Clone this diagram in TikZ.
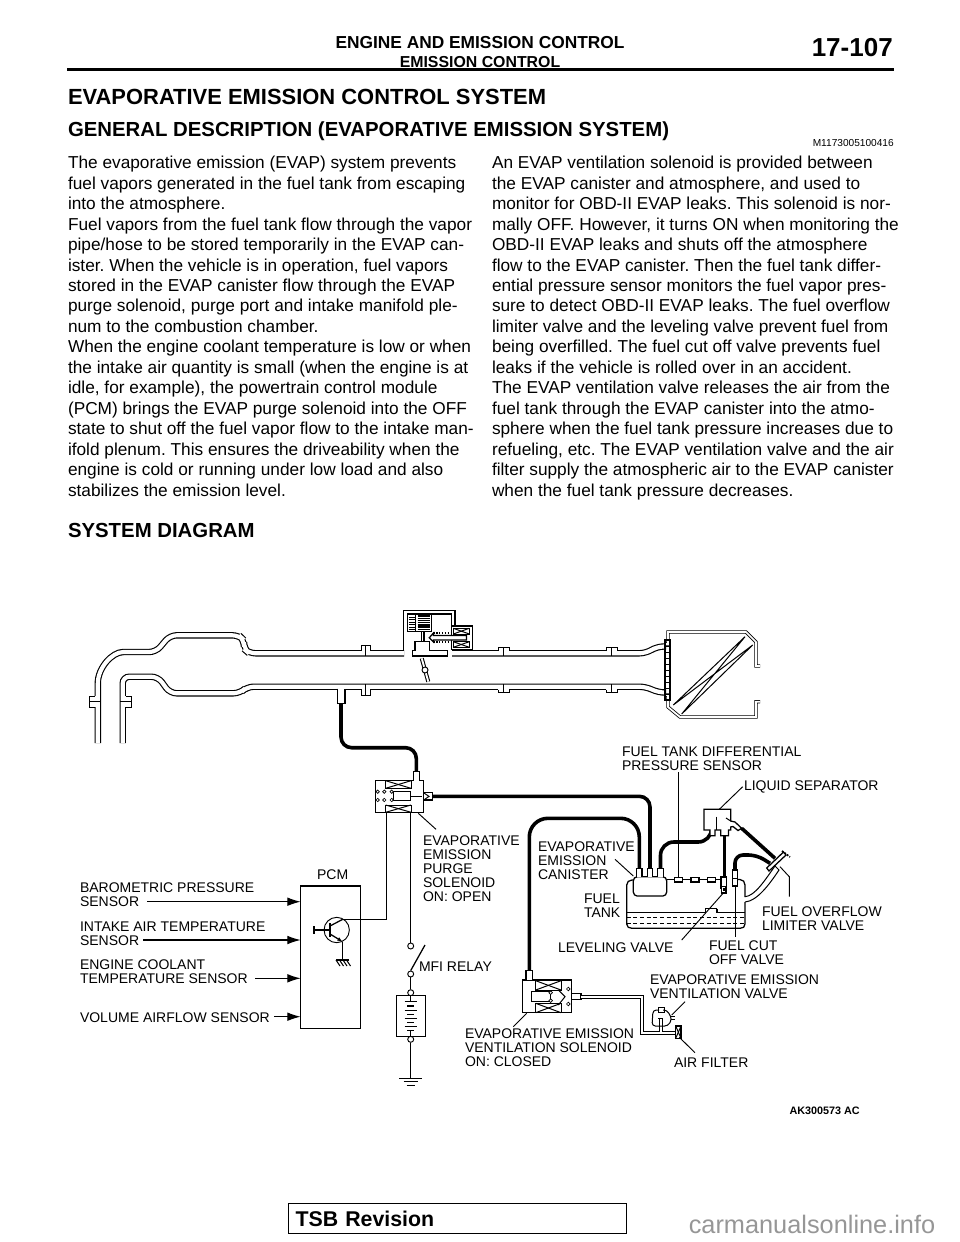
\documentclass[tikz,border=0pt]{standalone}
\usepackage{fontspec}
\setmainfont{Liberation Sans}
\usepackage{xcolor}
\usetikzlibrary{arrows,arrows.meta,positioning}
\definecolor{wmgray}{RGB}{150,150,150}
\tikzstyle{wall} = [draw=black, line width=0.95pt]
\tikzstyle{thin} = [draw=black, line width=0.75pt]
\tikzstyle{pipe} = [draw=black, line width=0.85pt, double=white, double distance=3.1pt, rounded corners=5pt]
\tikzstyle{smallpipe} = [draw=black, line width=0.7pt, double=white, double distance=1.4pt]
\tikzstyle{hose} = [draw=black, line width=2.7pt, rounded corners=8pt]
\tikzstyle{leader} = [draw=black, line width=0.7pt]
\tikzstyle{signal} = [draw=black, line width=0.9pt, -{Latex[length=10pt,width=6.5pt]}]
\tikzstyle{callout} = [inner sep=0pt, outer sep=0pt, align=left, font=\fontsize{10.5}{10.6}\selectfont]
\tikzstyle{para} = [inner sep=0pt, outer sep=0pt, align=left, font=\fontsize{12.95}{15.35}\selectfont]
\tikzstyle{heading} = [inner sep=0pt, outer sep=0pt, font=\bfseries\fontsize{15.27}{18}\selectfont]
\tikzstyle{solidbox} = [draw=black, line width=0.95pt, inner sep=0pt, outer sep=0pt, fill=white]
\frenchspacing
\begin{document}
\begin{tikzpicture}[x=0.75pt,y=-0.75pt]
\useasboundingbox (0,0) rectangle (960,1242);
% Page head
\node (head) [inner sep=0pt, font=\bfseries\fontsize{13}{14}\selectfont] at (480,43) {ENGINE AND EMISSION CONTROL};
\node (subhead) [inner sep=0pt, font=\bfseries\fontsize{11.9}{12}\selectfont] at (480,62) {EMISSION CONTROL};
\node (pageno) [inner sep=0pt, anchor=east, font=\bfseries\fontsize{19.5}{22}\selectfont] at (893,48) {17-107};
\coordinate (ruleL) at (67,69.5);
\coordinate (ruleR) at (894,69.5);
\draw[line width=2.4pt] (ruleL) -- (ruleR);
\node (title) [heading, anchor=west, font=\bfseries\fontsize{16.45}{18}\selectfont] at (68,96.5) {EVAPORATIVE EMISSION CONTROL SYSTEM};
\node (general) [heading, anchor=west] at (68,131) {GENERAL DESCRIPTION (EVAPORATIVE EMISSION SYSTEM)};
\node (docno) [inner sep=0pt, anchor=east, font=\fontsize{7.6}{9}\selectfont] at (894,143) {M1173005100416};
% Body text
\node (leftcol) [para, anchor=north west] at (68,156.2) {The evaporative emission (EVAP) system prevents\\
fuel vapors generated in the fuel tank from escaping\\
into the atmosphere.\\
Fuel vapors from the fuel tank flow through the vapor\\
pipe/hose to be stored temporarily in the EVAP can-\\
ister. When the vehicle is in operation, fuel vapors\\
stored in the EVAP canister flow through the EVAP\\
purge solenoid, purge port and intake manifold ple-\\
num to the combustion chamber.\\
When the engine coolant temperature is low or when\\
the intake air quantity is small (when the engine is at\\
idle, for example), the powertrain control module\\
(PCM) brings the EVAP purge solenoid into the OFF\\
state to shut off the fuel vapor flow to the intake man-\\
ifold plenum. This ensures the driveability when the\\
engine is cold or running under low load and also\\
stabilizes the emission level.};
\node (rightcol) [para, anchor=north west] at (492,156.2) {An EVAP ventilation solenoid is provided between\\
the EVAP canister and atmosphere, and used to\\
monitor for OBD-II EVAP leaks. This solenoid is nor-\\
mally OFF. However, it turns ON when monitoring the\\
OBD-II EVAP leaks and shuts off the atmosphere\\
flow to the EVAP canister. Then the fuel tank differ-\\
ential pressure sensor monitors the fuel vapor pres-\\
sure to detect OBD-II EVAP leaks. The fuel overflow\\
limiter valve and the leveling valve prevent fuel from\\
being overfilled. The fuel cut off valve prevents fuel\\
leaks if the vehicle is rolled over in an accident.\\
The EVAP ventilation valve releases the air from the\\
fuel tank through the EVAP canister into the atmo-\\
sphere when the fuel tank pressure increases due to\\
refueling, etc. The EVAP ventilation valve and the air\\
filter supply the atmospheric air to the EVAP canister\\
when the fuel tank pressure decreases.};
\node (sysdiag) [heading, anchor=west] at (68,530) {SYSTEM DIAGRAM};

% Intake pipe walls
\draw[pipe] (97.8,743) -- (97.8,690) .. controls (97.8,668) and (112,652) .. (130,652) -- (156,652) -- (170,635.3) -- (239,635.3) -- (244,640) -- (244,649) -- (249,653.3) -- (404,653.3);
\draw[pipe] (122.7,743) -- (122.7,676.7) -- (158,676.7) -- (170,693.3) -- (240,693.3) -- (247,686.7) -- (503,686.7) -- (646,686.7) -- (658,692.5) -- (666,692.5);
\draw[pipe] (452,653.3) -- (646,653.3) -- (657,646.5) -- (666,646.5);
% Flanges
\foreach \xa/\xb/\ya in {361.7/370/645,498.3/509.3/647.3,606/617.3/647.3} {
\fill[white] (\xa,\ya) rectangle (\xb,653);
\draw[thin] (\xa,651) -- (\xa,\ya) -- (\xb,\ya) -- (\xb,651);
\draw[thin] ({(\xa+\xb)/2},\ya) -- ({(\xa+\xb)/2},656);
}
\foreach \xa/\xb/\yb in {361.7/370/695.3,498.3/509.3/692.7,606/617.3/692.7} {
\fill[white] (\xa,687.5) rectangle (\xb,\yb);
\draw[thin] (\xa,689.5) -- (\xa,\yb) -- (\xb,\yb) -- (\xb,689.5);
\draw[thin] ({(\xa+\xb)/2},684) -- ({(\xa+\xb)/2},\yb);
}
\fill[white] (89.3,696) rectangle (96,707.3);
\draw[thin] (95,696) -- (89.3,696) -- (89.3,707.3) -- (95,707.3);
\draw[thin] (89.3,701.7) -- (100.7,701.7);
\fill[white] (124.5,696) rectangle (131,707.3);
\draw[thin] (125.5,696) -- (131,696) -- (131,707.3) -- (125.5,707.3);
\draw[thin] (120,701.7) -- (131,701.7);
% Branch to the purge hose
\fill[white] (338,685) rectangle (344.5,690);
\draw[wall] (337.5,688.5) -- (337.5,703.3) -- (345,703.3) -- (345,688.5);

% Air cleaner
\draw[wall, double=white, double distance=1.3pt, line width=0.6pt] (665,644) -- (668,644) -- (668,632) -- (746,632) -- (756,642) -- (756,666) -- (760,666);
\draw[wall, double=white, double distance=1.3pt, line width=0.6pt] (665,695) -- (668,695) -- (668,707) -- (680,717) -- (756,717) -- (756,701.7) -- (760,701.7);
\draw[wall] (665,640) rectangle (670,700);
\foreach \y in {646,652,658,664,670,676,682,688,694} {
\draw[thin] (665,\y) -- (670,\y);
}
\draw[thin] (673.3,705) -- (745,636.7) -- (681.7,714) -- (752.7,645) -- cycle;

% Purge control solenoid at the intake
\draw[wall] (403.3,650) -- (403.3,610.7) -- (455,610.7) -- (455,626);
\draw[wall] (431.5,631.7) -- (407.3,631.7) -- (407.3,614) -- (451.7,614) -- (451.7,650);
\draw[wall] (431.5,614) -- (431.5,631.7);
\draw[wall] (415.5,614) -- (415.5,631.7);
\foreach \y in {617,619.5,622,624.5,627,629.5} {
\draw[thin] (408.5,\y) -- (414.5,\y);
}
\foreach \y in {616,618.2,620.4,622.6,624.8,627,629.2} {
\draw[line width=1.05pt] (417.5,\y) -- (429.5,\y);
}
\draw[wall, fill=white] (421.7,631.7) rectangle (424,642);
\draw[wall, fill=white] (415,650.7) -- (415,641.7) -- (429.3,641.7) -- (429.3,650.7) -- (447.7,650.7) -- (447.7,656) -- (412.3,656) -- (412.3,650.7) -- cycle;
\draw[wall, fill=white] (451.7,626) rectangle (472.7,649.3);
\foreach \xa/\ya/\xb/\yb in {453.3/628.3/469.3/634,453.3/641.7/469.3/647.3} {
\draw[thin] (\xa,\ya) rectangle (\xb,\yb);
\draw[thin] (\xa,\ya) -- (\xb,\yb);
\draw[thin] (\xa,\yb) -- (\xb,\ya);
}
\draw[wall, fill=white] (466.5,635.5) -- (433.5,635.5) -- (433.5,633) -- (429.3,637.7) -- (433.5,642) -- (433.5,640) -- (466.5,640) -- cycle;
\draw[line width=1.2pt, densely dotted] (433,633) -- (452,633);
\draw[line width=1.2pt, densely dotted] (433,642) -- (452,642);
% Throttle plate
\draw[line width=3pt] (421.7,658.3) -- (428.3,681.7);
\draw[line width=1.4pt, white] (421.7,658.3) -- (428.3,681.7);
\node (throttle) [circle, draw=black, fill=white, line width=0.7pt, minimum size=4.5pt, inner sep=0pt] at (425,670) {};

% Purge solenoid
\node (purge) [solidbox, minimum width=35.7pt, minimum height=23.7pt] at (399.5,796.5) {};
\draw[wall, fill=white] (413.3,780.7) -- (413.3,771.7) -- (419.3,771.7) -- (419.3,780.7);
\foreach \xa/\ya/\xb/\yb in {385.7/780.7/411/788.3,385.7/805/411/812.3} {
\draw[thin] (\xa,\ya) rectangle (\xb,\yb);
\draw[thin] (\xa,\ya) -- (\xb,\yb);
\draw[thin] (\xa,\yb) -- (\xb,\ya);
}
\draw[thin] (393.3,791.7) rectangle (410,800.7);
\draw[thin] (410,796) -- (421.7,796);
\foreach \x in {377.7,384.3,391.7} {
\foreach \y in {791.7,800} {
\draw[line width=0.5pt, fill=white] (\x,\y) circle (1.7);
}
}
\draw[wall, fill=white] (423.3,792.7) rectangle (432.7,800);
\draw[thin] (424,793) -- (429,796.4) -- (424,799.8);

% Hoses
\coordinate (teeBottom) at (341,703.3);
\coordinate (purgeTop) at (416.3,771.7);
\coordinate (purgeOut) at (432.7,796.3);
\draw[hose] (teeBottom) -- (341,747.7) -- (416.3,747.7) -- (purgeTop);
\draw[hose] (purgeOut) -- (650,796.3) -- (650,868.5);
\draw[hose, rounded corners=14pt] (529.3,970.7) -- (529.3,818.3) -- (639.3,818.3) -- (639.3,868.5);
\draw[hose, rounded corners=10pt] (660.5,868.5) -- (660.5,842) -- (711.5,842) -- (711.5,835);
\draw[hose] (724.3,835) -- (724.3,877);
\draw[hose, rounded corners=0pt] (741.7,828.3) -- (775,858.3);
\draw[hose, rounded corners=6pt] (735,870) -- (735,855) -- (756.7,855) -- (770,863.3);

% Fuel tank
\draw[wall] (633.3,880) -- (632,880) .. controls (629,880) and (626.7,882) .. (626.7,885) -- (626.7,924) .. controls (626.7,927) and (629,928.3) .. (632,928.3) -- (740,928.3) .. controls (743,928.3) and (745,927) .. (745,924) -- (745,902);
\draw[wall] (745,897) -- (745,885) .. controls (745,882) and (743,879.5) .. (740,879.5) -- (737.3,879.5);
\draw[thin] (626.7,912.7) -- (705,912.7) -- (705,908.3) -- (716.7,908.3) -- (716.7,912.7) -- (745,912.7);
\draw[thin, densely dashed] (626.7,917.7) -- (745,917.7);
\draw[thin, densely dashed] (626.7,923.3) -- (745,923.3);
\draw[thin] (717.5,908.7) -- (717.5,911.5);
% Sensor line on top of the tank
\draw[wall] (666.7,879.5) -- (721,879.5);
\foreach \xa/\xb in {674.3/682.3,691/699,707.7/715.7} {
\draw[wall, fill=white] (\xa,877.3) rectangle (\xb,882);
}
% Valves in the tank
\draw[wall, fill=white] (721,877) rectangle (726.7,888);
\draw[wall, fill=white] (721.8,886.5) rectangle (726,893);
\fill (722.8,887.5) rectangle (725,891);
\draw[wall, fill=white] (732.3,870) rectangle (737.3,886);
\draw[thin] (732.3,878) -- (737.3,878);
% Filler neck
\draw[thin, fill=white] (745,896.7) .. controls (755,896) and (765,880) .. (775,866) -- (779,870) .. controls (769,885) and (757,901) .. (745,902);
\draw[wall, fill=white] (766.7,868) -- (783.5,852) -- (786,855) -- (769,871) -- cycle;
\draw[line width=1.3pt, densely dotted] (782,851) -- (790,857);

% Canister
\node (canister) [solidbox, rounded corners=3pt, minimum width=25pt, minimum height=14.5pt] at (650,886.4) {};
\foreach \x in {639.2,650,660.5} {
\draw[wall, fill=white] ({\x-2.7},876.7) -- ({\x-2.7},868.5) -- ({\x+2.7},868.5) -- ({\x+2.7},876.7);
}

% Liquid separator
\draw[wall, fill=white] (704,830) -- (704,809.3) -- (730.7,809.3) -- (730.7,821) -- (735,822) -- (741.7,828.3) -- (738,830.5) -- (733,826.5) -- (730.7,827) -- (730.7,830) -- (728.5,830) -- (728.5,835.7) -- (720.7,835.7) -- (720.7,830) -- (715,830) -- (715,835.7) -- (710,835.7) -- (710,830) -- cycle;
\draw[thin] (716,816.7) -- (716,830);
\draw[thin] (730.7,821) -- (726,818);

% Ventilation solenoid
\node (ventsol) [solidbox, minimum width=36.8pt, minimum height=24.5pt] at (547.2,996.3) {};
\draw[wall, fill=white] (571.7,993.3) -- (581,993.3) -- (581,999.3) -- (571.7,999.3);
\draw[wall, fill=white] (526,980) -- (526,970.7) -- (532.3,970.7) -- (532.3,980);
\foreach \xa/\ya/\xb/\yb in {535.7/980.7/561/990,535.7/1003.3/561/1012.7} {
\draw[thin] (\xa,\ya) rectangle (\xb,\yb);
\draw[thin] (\xa,\ya) -- (\xb,\yb);
\draw[thin] (\xa,\yb) -- (\xb,\ya);
}
\draw[thin] (531.7,991.7) rectangle (550,1001.7);
\draw[thin] (558.3,990) -- (565,996.7) -- (558.3,1005);
\foreach \x/\y in {550.7/992.7,550.7/1000.7,568.3/989,568.3/1004} {
\draw[line width=0.5pt, fill=white] (\x,\y) circle (1.8);
}
% Air line to the filter
\draw[smallpipe] (581,996.7) -- (641.7,996.7) -- (641.7,1032.7) -- (676,1032.7);
% Ventilation valve
\draw[smallpipe] (661,1018) -- (661,1032);
\draw[thin, rounded corners=2.5pt] (659,1010) -- (653,1010) -- (652,1026) -- (668,1026) -- (672,1019) -- (667,1010) -- (663,1010);
\draw[thin, densely dashed] (658,1018) -- (664,1018);
\draw[thin] (658,1007.5) rectangle (664,1012);
\draw[thin] (670,1016) -- (675,1016);
\draw[thin] (671,1019) -- (675,1019);
% Air filter
\draw[wall, fill=white] (675.7,1026) rectangle (681,1038.3);
\draw[thin] (675.7,1026) -- (681,1038.3);
\draw[thin] (681,1026) -- (675.7,1038.3);

% PCM and sensor inputs
\node (pcm) [solidbox, minimum width=45pt, minimum height=106.7pt] at (330.7,957.2) {};
\node (pcmlbl) [callout, above=5pt of pcm, xshift=1.5pt] {PCM};
\node (baro) [callout, anchor=north west] at (80,882.5) {BAROMETRIC PRESSURE\\SENSOR};
\node (iat) [callout, anchor=north west] at (80,921.5) {INTAKE AIR TEMPERATURE\\SENSOR};
\node (ect) [callout, anchor=north west] at (80,959.5) {ENGINE COOLANT\\TEMPERATURE SENSOR};
\node (vaf) [callout, anchor=north west] at (80,1012.5) {VOLUME AIRFLOW SENSOR};
\coordinate (baroOut) at (147,901.7);
\coordinate (iatOut) at (143,940);
\coordinate (ectOut) at (255,978.3);
\coordinate (vafOut) at (274,1016.7);
\draw[signal] (baroOut) -- (baroOut -| pcm.west);
\draw[signal] (iatOut) -- (iatOut -| pcm.west);
\draw[signal] (ectOut) -- (ectOut -| pcm.west);
\draw[signal] (vafOut) -- (vafOut -| pcm.west);
% Transistor
\node (tr) [circle, draw=black, line width=0.7pt, minimum size=19pt, inner sep=0pt] at (336.7,930) {};
\draw[wall] (314,930) -- (330,930);
\draw[wall] (314,926) -- (314,934);
\draw[line width=1.4pt] (330,923) -- (330,937);
\coordinate (emit) at (342.7,941.7);
\coordinate (coll) at (342.7,919.3);
\draw[wall, -{Latex[length=4pt,width=3pt]}] (330,934) -- (emit);
\draw[wall] (330,926) -- (coll);
\draw[wall] (coll) -- (386.7,919.3) -- (386.7,812.3);
\coordinate (chassis) at (342.7,960);
\draw[wall] (emit) -- (chassis);
\draw[wall] (336,960) -- (349,960);
\foreach \x in {336,339.5,343,346.5} {
\draw[thin] (\x,960) -- ({\x+4},966);
}

% MFI relay and battery
\node (relayA) [circle, draw=black, fill=white, line width=0.7pt, minimum size=4.5pt, inner sep=0pt] at (410.7,946) {};
\node (relayB) [circle, draw=black, fill=white, line width=0.7pt, minimum size=4.5pt, inner sep=0pt] at (410.7,974) {};
\node (battTop) [circle, draw=black, fill=white, line width=0.7pt, minimum size=4.5pt, inner sep=0pt] at (410.7,992.7) {};
\node (battBot) [circle, draw=black, fill=white, line width=0.7pt, minimum size=4.5pt, inner sep=0pt] at (410.7,1039.3) {};
\coordinate (purgeLow) at (410.7,812.3);
\coordinate (gnd) at (410.7,1078.3);
\coordinate (armTip) at (425,945);
\draw[wall] (purgeLow) -- (relayA);
\draw[wall] (relayB.north) -- (armTip);
\draw[wall] (relayB) -- (battTop);
\node (batt) [solidbox, minimum width=21.8pt, minimum height=31pt] at (410.8,1016) {};
\foreach \y/\w in {1001.5/6,1006/3.5,1010.5/6,1014.5/3.5,1018.5/6,1022.5/3.5,1026.5/6,1030.5/3.5} {
\draw[line width=1pt] ({410.7-\w},\y) -- ({410.7+\w},\y);
}
\draw[wall] (410.7,1030.5) -- (410.7,1036.7);
\draw[wall] (410.7,995.3) -- (410.7,1001.5);
\draw[wall] (battBot) -- (gnd);
\draw[wall] (399.3,1078.3) -- (422,1078.3);
\draw[thin] (403.5,1081.7) -- (418,1081.7);
\draw[thin] (406.5,1085) -- (415,1085);
\node (relaylbl) [callout, anchor=north west] at (419,961.5) {MFI RELAY};

% Callouts
\node (purgelbl) [callout, anchor=north west] at (423,835.5) {EVAPORATIVE\\EMISSION\\PURGE\\SOLENOID\\ON: OPEN};
\node (canlbl) [callout, anchor=north west] at (538,841.5) {EVAPORATIVE\\EMISSION\\CANISTER};
\node (tanklbl) [callout, anchor=north west] at (584,893.5) {FUEL\\TANK};
\node (difflbl) [callout, anchor=north west] at (622,746.5) {FUEL TANK DIFFERENTIAL\\PRESSURE SENSOR};
\node (seplbl) [callout, anchor=west] at (744,787) {LIQUID SEPARATOR};
\node (ovflbl) [callout, anchor=north west] at (762,906.5) {FUEL OVERFLOW\\LIMITER VALVE};
\node (cutlbl) [callout, anchor=north west] at (709,940.5) {FUEL CUT\\OFF VALVE};
\node (levlbl) [callout, anchor=north west] at (558,942.5) {LEVELING VALVE};
\node (ventlbl) [callout, anchor=north west] at (650,974.5) {EVAPORATIVE EMISSION\\VENTILATION VALVE};
\node (solbl) [callout, anchor=north west] at (465,1028.5) {EVAPORATIVE EMISSION\\VENTILATION SOLENOID\\ON: CLOSED};
\node (airlbl) [callout, anchor=north west] at (674,1057.5) {AIR FILTER};
\node (figno) [inner sep=0pt, anchor=east, font=\bfseries\fontsize{8.1}{9}\selectfont] at (860,1111) {AK300573 AC};
% Callout leaders
\draw[leader] (436,829.3) -- (418.3,813.3);
\draw[leader] (615,859.3) -- (633.3,876);
\draw[leader] (678,772) -- (678,878);
\draw[leader] (742.7,786.7) -- (719.3,809.3);
\draw[leader] (780,866.7) -- (789.3,876.7) -- (789.3,896.7);
\draw[leader] (735,885) -- (735,936.7);
\draw[leader] (723.3,893) -- (681.7,940);
\draw[leader] (685,1001.7) -- (671.7,1015);
\draw[leader] (526.7,1013.3) -- (513.3,1026.7);
\draw[leader] (679.3,1037.3) -- (695,1052.7);

% Page foot
\node (tsb) [draw=black, line width=0.7pt, inner sep=0pt, minimum width=254pt, minimum height=22pt, text width=243pt, align=left, font=\bfseries\fontsize{16}{18}\selectfont] at (457.5,1218.5) {TSB Revision};
\node (wm) [inner sep=0pt, anchor=base, text=wmgray, font=\fontsize{19}{22}\selectfont] at (812,1233) {carmanualsonline.info};
\end{tikzpicture}
\end{document}
